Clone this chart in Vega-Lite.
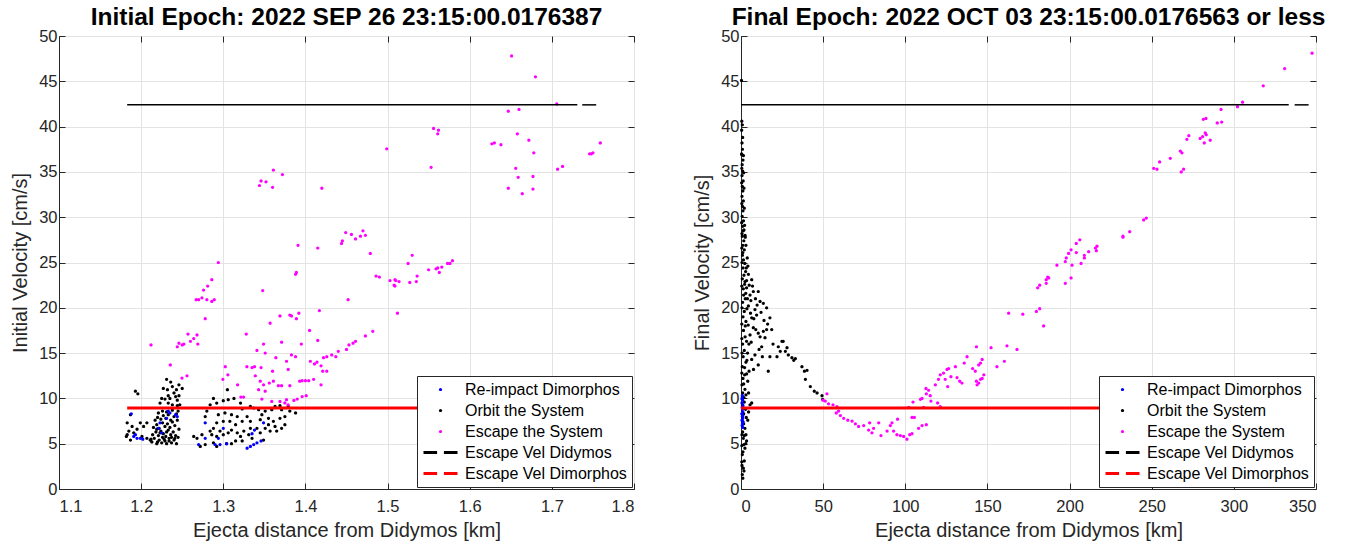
{
  "$schema": "https://vega.github.io/schema/vega-lite/v6.json",
  "background": "white",
  "padding": {"left": 10, "top": 4, "right": 0, "bottom": 0},
  "bounds": "flush",
  "spacing": 107,
  "resolve": {"scale": {"color": "independent", "shape": "independent"}, "legend": {"color": "independent", "shape": "independent"}},
  "datasets": {
    "lp": [
      {"x":1.193,"y":10.8,"s":"O"},{"x":1.196,"y":10.5,"s":"O"},{"x":1.231,"y":12.1,"s":"O"},{"x":1.236,"y":11.8,"s":"O"},{"x":1.238,"y":11.3,"s":"O"},{"x":1.227,"y":11.1,"s":"O"},{"x":1.232,"y":10.96,"s":"O"},{"x":1.246,"y":11.5,"s":"O"},{"x":1.25,"y":11.1,"s":"O"},{"x":1.243,"y":10.96,"s":"O"},{"x":1.24,"y":10.6,"s":"O"},{"x":1.233,"y":10.3,"s":"O"},{"x":1.225,"y":10.0,"s":"O"},{"x":1.229,"y":9.93,"s":"O"},{"x":1.235,"y":10.0,"s":"O"},{"x":1.242,"y":10.2,"s":"O"},{"x":1.246,"y":10.3,"s":"O"},{"x":1.223,"y":9.49,"s":"O"},{"x":1.233,"y":9.49,"s":"O"},{"x":1.238,"y":9.3,"s":"O"},{"x":1.244,"y":9.2,"s":"O"},
      {"x":1.187,"y":8.2,"s":"O"},{"x":1.183,"y":7.3,"s":"O"},{"x":1.189,"y":6.9,"s":"O"},{"x":1.185,"y":6.4,"s":"O"},{"x":1.191,"y":6.2,"s":"O"},{"x":1.182,"y":5.8,"s":"O"},{"x":1.187,"y":5.4,"s":"O"},{"x":1.199,"y":7.3,"s":"O"},{"x":1.207,"y":7.3,"s":"O"},{"x":1.201,"y":5.8,"s":"O"},{"x":1.207,"y":5.6,"s":"O"},{"x":1.211,"y":5.4,"s":"O"},{"x":1.183,"y":6.0,"s":"O"},{"x":1.195,"y":6.6,"s":"O"},{"x":1.203,"y":6.9,"s":"O"},
      {"x":1.213,"y":5.2,"s":"O"},{"x":1.216,"y":5.6,"s":"O"},{"x":1.219,"y":5.0,"s":"O"},{"x":1.222,"y":5.4,"s":"O"},{"x":1.225,"y":5.1,"s":"O"},{"x":1.228,"y":5.5,"s":"O"},{"x":1.231,"y":5.0,"s":"O"},{"x":1.234,"y":5.3,"s":"O"},{"x":1.237,"y":5.1,"s":"O"},{"x":1.24,"y":5.4,"s":"O"},{"x":1.243,"y":5.0,"s":"O"},{"x":1.214,"y":6.0,"s":"O"},{"x":1.218,"y":6.3,"s":"O"},{"x":1.221,"y":5.9,"s":"O"},{"x":1.224,"y":6.4,"s":"O"},{"x":1.227,"y":6.1,"s":"O"},{"x":1.23,"y":5.8,"s":"O"},{"x":1.233,"y":6.5,"s":"O"},{"x":1.236,"y":6.0,"s":"O"},{"x":1.239,"y":6.3,"s":"O"},{"x":1.242,"y":5.9,"s":"O"},{"x":1.215,"y":6.8,"s":"O"},{"x":1.219,"y":7.1,"s":"O"},{"x":1.222,"y":6.7,"s":"O"},{"x":1.226,"y":7.3,"s":"O"},{"x":1.229,"y":6.9,"s":"O"},{"x":1.232,"y":7.2,"s":"O"},{"x":1.235,"y":6.8,"s":"O"},{"x":1.238,"y":7.4,"s":"O"},{"x":1.241,"y":7.0,"s":"O"},{"x":1.217,"y":7.6,"s":"O"},{"x":1.22,"y":7.9,"s":"O"},{"x":1.224,"y":7.7,"s":"O"},{"x":1.227,"y":8.1,"s":"O"},{"x":1.23,"y":7.8,"s":"O"},{"x":1.233,"y":8.2,"s":"O"},{"x":1.236,"y":7.6,"s":"O"},{"x":1.24,"y":8.0,"s":"O"},{"x":1.243,"y":8.3,"s":"O"},{"x":1.221,"y":8.4,"s":"O"},{"x":1.226,"y":8.6,"s":"O"},{"x":1.231,"y":8.5,"s":"O"},{"x":1.238,"y":8.7,"s":"O"},{"x":1.244,"y":7.6,"s":"O"},{"x":1.246,"y":6.6,"s":"O"},{"x":1.245,"y":5.7,"s":"O"},{"x":1.212,"y":5.5,"s":"O"},{"x":1.22,"y":5.2,"s":"O"},{"x":1.229,"y":5.3,"s":"O"},{"x":1.241,"y":5.6,"s":"O"},{"x":1.223,"y":6.2,"s":"O"},{"x":1.234,"y":5.6,"s":"O"},{"x":1.219,"y":6.6,"s":"O"},{"x":1.231,"y":6.3,"s":"O"},{"x":1.237,"y":5.7,"s":"O"},{"x":1.226,"y":5.7,"s":"O"},{"x":1.245,"y":8.6,"s":"O"},{"x":1.247,"y":9.3,"s":"O"},{"x":1.244,"y":9.8,"s":"O"},
      {"x":1.288,"y":10.0,"s":"O"},{"x":1.292,"y":9.49,"s":"O"},{"x":1.284,"y":9.3,"s":"O"},{"x":1.3,"y":9.75,"s":"O"},{"x":1.306,"y":9.86,"s":"O"},{"x":1.313,"y":10.0,"s":"O"},{"x":1.305,"y":10.96,"s":"O"},{"x":1.321,"y":9.49,"s":"O"},{"x":1.323,"y":8.83,"s":"O"},{"x":1.333,"y":9.12,"s":"O"},{"x":1.337,"y":8.94,"s":"O"},{"x":1.343,"y":8.75,"s":"O"},{"x":1.347,"y":8.2,"s":"O"},{"x":1.351,"y":8.6,"s":"O"},{"x":1.359,"y":8.75,"s":"O"},{"x":1.363,"y":9.12,"s":"O"},{"x":1.369,"y":9.2,"s":"O"},{"x":1.379,"y":9.12,"s":"O"},{"x":1.388,"y":8.4,"s":"O"},{"x":1.381,"y":8.6,"s":"O"},{"x":1.371,"y":8.75,"s":"O"},
      {"x":1.28,"y":8.6,"s":"O"},{"x":1.278,"y":8.0,"s":"O"},{"x":1.294,"y":8.2,"s":"O"},{"x":1.302,"y":8.4,"s":"O"},{"x":1.31,"y":8.2,"s":"O"},{"x":1.317,"y":8.0,"s":"O"},{"x":1.329,"y":8.0,"s":"O"},{"x":1.292,"y":7.3,"s":"O"},{"x":1.3,"y":7.47,"s":"O"},{"x":1.308,"y":7.47,"s":"O"},{"x":1.315,"y":7.1,"s":"O"},{"x":1.323,"y":7.47,"s":"O"},{"x":1.333,"y":7.47,"s":"O"},{"x":1.345,"y":7.65,"s":"O"},{"x":1.355,"y":7.8,"s":"O"},{"x":1.361,"y":7.47,"s":"O"},{"x":1.369,"y":7.8,"s":"O"},{"x":1.375,"y":8.0,"s":"O"},
      {"x":1.268,"y":5.6,"s":"O"},{"x":1.264,"y":5.8,"s":"O"},{"x":1.274,"y":6.0,"s":"O"},{"x":1.284,"y":6.4,"s":"O"},{"x":1.288,"y":6.7,"s":"O"},{"x":1.286,"y":6.0,"s":"O"},{"x":1.292,"y":5.8,"s":"O"},{"x":1.296,"y":6.4,"s":"O"},{"x":1.3,"y":6.0,"s":"O"},{"x":1.306,"y":6.2,"s":"O"},{"x":1.31,"y":6.5,"s":"O"},{"x":1.317,"y":6.2,"s":"O"},{"x":1.321,"y":5.8,"s":"O"},{"x":1.325,"y":6.4,"s":"O"},{"x":1.331,"y":6.0,"s":"O"},{"x":1.333,"y":6.7,"s":"O"},{"x":1.341,"y":6.7,"s":"O"},{"x":1.345,"y":6.2,"s":"O"},{"x":1.351,"y":6.7,"s":"O"},{"x":1.355,"y":7.1,"s":"O"},{"x":1.357,"y":6.4,"s":"O"},{"x":1.363,"y":6.9,"s":"O"},{"x":1.365,"y":6.4,"s":"O"},{"x":1.371,"y":6.7,"s":"O"},{"x":1.375,"y":7.1,"s":"O"},{"x":1.272,"y":4.7,"s":"O"},{"x":1.278,"y":4.9,"s":"O"},{"x":1.292,"y":4.7,"s":"O"},{"x":1.288,"y":5.1,"s":"O"},{"x":1.304,"y":5.0,"s":"O"},{"x":1.31,"y":5.0,"s":"O"},{"x":1.315,"y":5.3,"s":"O"},{"x":1.323,"y":5.3,"s":"O"},{"x":1.335,"y":5.6,"s":"O"},{"x":1.349,"y":5.4,"s":"O"},
      {"x":1.2355,"y":13.7,"s":"E"},{"x":1.2497,"y":12.25,"s":"E"},{"x":1.2558,"y":12.5,"s":"E"},{"x":1.3024,"y":13.5,"s":"E"},{"x":1.3056,"y":12.6,"s":"E"},{"x":1.2995,"y":12.1,"s":"E"},{"x":1.3174,"y":11.5,"s":"E"},{"x":1.3214,"y":10.15,"s":"E"},{"x":1.3247,"y":10.15,"s":"E"},{"x":1.3287,"y":13.5,"s":"E"},{"x":1.335,"y":13.4,"s":"E"},{"x":1.338,"y":13.5,"s":"E"},{"x":1.346,"y":13.4,"s":"E"},{"x":1.339,"y":12.5,"s":"E"},{"x":1.345,"y":11.9,"s":"E"},{"x":1.343,"y":10.96,"s":"E"},{"x":1.349,"y":11.5,"s":"E"},{"x":1.347,"y":9.93,"s":"E"},{"x":1.351,"y":10.8,"s":"E"},{"x":1.356,"y":11.7,"s":"E"},{"x":1.36,"y":13.0,"s":"E"},{"x":1.359,"y":9.67,"s":"E"},{"x":1.361,"y":11.9,"s":"E"},{"x":1.367,"y":11.4,"s":"E"},{"x":1.369,"y":9.67,"s":"E"},{"x":1.371,"y":11.4,"s":"E"},{"x":1.375,"y":9.5,"s":"E"},{"x":1.377,"y":9.86,"s":"E"},{"x":1.379,"y":9.3,"s":"E"},{"x":1.381,"y":11.4,"s":"E"},{"x":1.386,"y":9.78,"s":"E"},{"x":1.39,"y":9.93,"s":"E"},{"x":1.393,"y":11.9,"s":"E"},{"x":1.396,"y":11.95,"s":"E"},{"x":1.4,"y":11.95,"s":"E"},{"x":1.404,"y":11.95,"s":"E"},{"x":1.396,"y":10.2,"s":"E"},{"x":1.401,"y":10.3,"s":"E"},{"x":1.41,"y":12.1,"s":"E"},{"x":1.419,"y":11.5,"s":"E"},{"x":1.421,"y":13.0,"s":"E"},{"x":1.426,"y":13.0,"s":"E"},{"x":1.419,"y":13.6,"s":"E"},{"x":1.406,"y":14.1,"s":"E"},{"x":1.411,"y":13.8,"s":"E"},{"x":1.414,"y":14.0,"s":"E"},{"x":1.388,"y":14.6,"s":"E"},{"x":1.364,"y":14.5,"s":"E"},{"x":1.377,"y":14.1,"s":"E"},{"x":1.379,"y":13.2,"s":"E"},
      {"x":1.281,"y":22.4,"s":"E"},{"x":1.276,"y":21.96,"s":"E"},{"x":1.267,"y":20.9,"s":"E"},{"x":1.27,"y":20.9,"s":"E"},{"x":1.274,"y":21.1,"s":"E"},{"x":1.28,"y":20.9,"s":"E"},{"x":1.286,"y":20.7,"s":"E"},{"x":1.289,"y":20.9,"s":"E"},{"x":1.348,"y":21.9,"s":"E"},{"x":1.278,"y":18.8,"s":"E"},{"x":1.212,"y":15.9,"s":"E"},{"x":1.244,"y":15.7,"s":"E"},{"x":1.246,"y":16.1,"s":"E"},{"x":1.25,"y":15.9,"s":"E"},{"x":1.252,"y":16.0,"s":"E"},{"x":1.257,"y":17.1,"s":"E"},{"x":1.26,"y":16.3,"s":"E"},{"x":1.264,"y":16.6,"s":"E"},{"x":1.268,"y":17.0,"s":"E"},{"x":1.269,"y":16.0,"s":"E"},{"x":1.328,"y":17.1,"s":"E"},{"x":1.341,"y":15.3,"s":"E"},{"x":1.349,"y":16.0,"s":"E"},{"x":1.351,"y":15.0,"s":"E"},{"x":1.357,"y":18.3,"s":"E"},{"x":1.369,"y":19.1,"s":"E"},{"x":1.381,"y":19.2,"s":"E"},{"x":1.383,"y":19.1,"s":"E"},{"x":1.392,"y":19.4,"s":"E"},{"x":1.389,"y":18.8,"s":"E"},{"x":1.371,"y":16.2,"s":"E"},{"x":1.383,"y":14.8,"s":"E"},{"x":1.395,"y":16.0,"s":"E"},{"x":1.405,"y":17.5,"s":"E"},{"x":1.415,"y":16.4,"s":"E"},{"x":1.417,"y":19.7,"s":"E"},{"x":1.422,"y":14.5,"s":"E"},{"x":1.426,"y":14.6,"s":"E"},{"x":1.432,"y":14.8,"s":"E"},{"x":1.437,"y":14.6,"s":"E"},{"x":1.44,"y":15.2,"s":"E"},{"x":1.45,"y":15.4,"s":"E"},{"x":1.453,"y":15.9,"s":"E"},{"x":1.458,"y":16.1,"s":"E"},{"x":1.461,"y":16.3,"s":"E"},{"x":1.473,"y":16.9,"s":"E"},{"x":1.482,"y":17.4,"s":"E"},{"x":1.452,"y":20.9,"s":"E"},
      {"x":1.499,"y":37.55,"s":"E"},{"x":1.361,"y":35.2,"s":"E"},{"x":1.372,"y":34.7,"s":"E"},{"x":1.346,"y":34.0,"s":"E"},{"x":1.352,"y":33.9,"s":"E"},{"x":1.344,"y":33.5,"s":"E"},{"x":1.36,"y":33.3,"s":"E"},{"x":1.42,"y":33.2,"s":"E"},{"x":1.391,"y":26.9,"s":"E"},{"x":1.415,"y":26.6,"s":"E"},{"x":1.444,"y":27.1,"s":"E"},{"x":1.445,"y":27.4,"s":"E"},{"x":1.449,"y":28.3,"s":"E"},{"x":1.456,"y":28.1,"s":"E"},{"x":1.461,"y":27.6,"s":"E"},{"x":1.467,"y":27.9,"s":"E"},{"x":1.47,"y":28.5,"s":"E"},{"x":1.473,"y":28.0,"s":"E"},{"x":1.479,"y":26.0,"s":"E"},{"x":1.294,"y":25.0,"s":"E"},{"x":1.286,"y":23.1,"s":"E"},{"x":1.389,"y":23.9,"s":"E"},{"x":1.388,"y":23.7,"s":"E"},{"x":1.486,"y":23.5,"s":"E"},{"x":1.49,"y":23.4,"s":"E"},
      {"x":1.651,"y":47.8,"s":"E"},{"x":1.68,"y":45.5,"s":"E"},{"x":1.706,"y":42.5,"s":"E"},{"x":1.647,"y":41.7,"s":"E"},{"x":1.66,"y":41.9,"s":"E"},{"x":1.556,"y":39.8,"s":"E"},{"x":1.562,"y":39.6,"s":"E"},{"x":1.561,"y":39.2,"s":"E"},{"x":1.627,"y":38.1,"s":"E"},{"x":1.63,"y":38.2,"s":"E"},{"x":1.638,"y":38.0,"s":"E"},{"x":1.658,"y":39.2,"s":"E"},{"x":1.672,"y":38.5,"s":"E"},{"x":1.678,"y":37.1,"s":"E"},{"x":1.746,"y":37.0,"s":"E"},{"x":1.748,"y":37.0,"s":"E"},{"x":1.75,"y":37.1,"s":"E"},{"x":1.759,"y":38.2,"s":"E"},{"x":1.553,"y":35.5,"s":"E"},{"x":1.656,"y":35.4,"s":"E"},{"x":1.659,"y":34.4,"s":"E"},{"x":1.677,"y":34.5,"s":"E"},{"x":1.707,"y":35.3,"s":"E"},{"x":1.713,"y":35.6,"s":"E"},{"x":1.647,"y":33.2,"s":"E"},{"x":1.664,"y":32.6,"s":"E"},{"x":1.677,"y":33.1,"s":"E"},{"x":1.53,"y":25.8,"s":"E"},{"x":1.525,"y":24.9,"s":"E"},{"x":1.55,"y":24.2,"s":"E"},{"x":1.559,"y":24.3,"s":"E"},{"x":1.561,"y":24.4,"s":"E"},{"x":1.563,"y":23.9,"s":"E"},{"x":1.566,"y":24.5,"s":"E"},{"x":1.573,"y":24.9,"s":"E"},{"x":1.576,"y":24.9,"s":"E"},{"x":1.579,"y":25.2,"s":"E"},{"x":1.503,"y":23.0,"s":"E"},{"x":1.509,"y":23.1,"s":"E"},{"x":1.51,"y":23.0,"s":"E"},{"x":1.514,"y":22.9,"s":"E"},{"x":1.508,"y":22.5,"s":"E"},{"x":1.509,"y":22.4,"s":"E"},{"x":1.527,"y":22.8,"s":"E"},{"x":1.535,"y":22.9,"s":"E"},{"x":1.536,"y":23.5,"s":"E"},{"x":1.512,"y":19.4,"s":"E"},
      {"x":1.188,"y":8.3,"s":"R"},{"x":1.191,"y":5.8,"s":"R"},{"x":1.195,"y":5.6,"s":"R"},{"x":1.199,"y":5.6,"s":"R"},{"x":1.202,"y":5.5,"s":"R"},{"x":1.193,"y":6.0,"s":"R"},{"x":1.223,"y":7.3,"s":"R"},{"x":1.221,"y":6.7,"s":"R"},{"x":1.233,"y":8.6,"s":"R"},{"x":1.235,"y":8.4,"s":"R"},{"x":1.242,"y":8.2,"s":"R"},{"x":1.244,"y":8.0,"s":"R"},{"x":1.225,"y":6.2,"s":"R"},{"x":1.231,"y":7.8,"s":"R"},{"x":1.278,"y":7.3,"s":"R"},{"x":1.278,"y":5.6,"s":"R"},{"x":1.27,"y":4.9,"s":"R"},{"x":1.29,"y":4.9,"s":"R"},{"x":1.294,"y":5.6,"s":"R"},{"x":1.296,"y":4.9,"s":"R"},{"x":1.3,"y":6.7,"s":"R"},{"x":1.304,"y":5.0,"s":"R"},{"x":1.329,"y":4.5,"s":"R"},{"x":1.333,"y":4.7,"s":"R"},{"x":1.337,"y":4.9,"s":"R"},{"x":1.341,"y":5.1,"s":"R"},{"x":1.346,"y":5.3,"s":"R"},{"x":1.338,"y":6.5,"s":"R"},{"x":1.335,"y":6.1,"s":"R"},{"x":1.349,"y":7.3,"s":"R"}
    ],
    "rp": [
      {"x":0.3,"y":45.1,"s":"O"},{"x":0.5,"y":40.6,"s":"O"},{"x":0.8,"y":40.2,"s":"O"},{"x":0.4,"y":39.6,"s":"O"},{"x":1.0,"y":38.8,"s":"O"},{"x":0.6,"y":38.2,"s":"O"},{"x":0.9,"y":37.5,"s":"O"},{"x":0.5,"y":36.9,"s":"O"},{"x":1.2,"y":36.3,"s":"O"},{"x":0.7,"y":35.8,"s":"O"},{"x":1.0,"y":35.1,"s":"O"},{"x":0.6,"y":34.6,"s":"O"},{"x":1.3,"y":34.0,"s":"O"},{"x":0.8,"y":33.4,"s":"O"},{"x":1.1,"y":32.9,"s":"O"},{"x":0.6,"y":32.3,"s":"O"},{"x":1.4,"y":31.8,"s":"O"},{"x":0.9,"y":31.2,"s":"O"},{"x":1.2,"y":30.7,"s":"O"},{"x":0.7,"y":30.1,"s":"O"},{"x":1.5,"y":29.6,"s":"O"},{"x":1.0,"y":29.0,"s":"O"},{"x":1.3,"y":28.5,"s":"O"},{"x":0.8,"y":27.9,"s":"O"},{"x":1.7,"y":27.4,"s":"O"},{"x":1.1,"y":26.9,"s":"O"},{"x":2.0,"y":26.4,"s":"O"},{"x":0.9,"y":25.8,"s":"O"},{"x":1.5,"y":25.3,"s":"O"},{"x":2.3,"y":24.9,"s":"O"},{"x":1.2,"y":24.4,"s":"O"},{"x":2.8,"y":24.0,"s":"O"},{"x":1.8,"y":23.6,"s":"O"},{"x":0.8,"y":23.2,"s":"O"},{"x":3.4,"y":23.0,"s":"O"},{"x":2.2,"y":22.6,"s":"O"},{"x":4.5,"y":23.7,"s":"O"},{"x":6.5,"y":23.1,"s":"O"},{"x":1.4,"y":22.1,"s":"O"},{"x":3.4,"y":22.2,"s":"O"},{"x":5.5,"y":21.4,"s":"O"},{"x":7.5,"y":21.8,"s":"O"},{"x":10.5,"y":21.8,"s":"O"},{"x":2.6,"y":21.0,"s":"O"},{"x":1.0,"y":20.6,"s":"O"},{"x":11.6,"y":20.7,"s":"O"},{"x":13.6,"y":20.5,"s":"O"},{"x":15.6,"y":20.0,"s":"O"},{"x":17.6,"y":18.9,"s":"O"},{"x":8.5,"y":19.8,"s":"O"},{"x":9.5,"y":19.2,"s":"O"},{"x":4.5,"y":20.2,"s":"O"},{"x":2.0,"y":19.6,"s":"O"},{"x":1.2,"y":19.0,"s":"O"},{"x":6.5,"y":18.9,"s":"O"},{"x":3.0,"y":18.5,"s":"O"},{"x":7.5,"y":17.8,"s":"O"},{"x":10.5,"y":17.2,"s":"O"},{"x":11.6,"y":16.8,"s":"O"},{"x":13.6,"y":17.4,"s":"O"},{"x":15.6,"y":17.6,"s":"O"},{"x":18.7,"y":17.6,"s":"O"},{"x":14.6,"y":16.7,"s":"O"},{"x":12.6,"y":15.7,"s":"O"},{"x":5.5,"y":17.0,"s":"O"},{"x":1.5,"y":17.5,"s":"O"},{"x":2.5,"y":16.8,"s":"O"},{"x":3.4,"y":16.3,"s":"O"},{"x":1.0,"y":16.0,"s":"O"},{"x":8.5,"y":14.8,"s":"O"},{"x":6.5,"y":14.3,"s":"O"},{"x":10.5,"y":13.7,"s":"O"},{"x":16.6,"y":13.0,"s":"O"},{"x":17.6,"y":14.6,"s":"O"},{"x":2.0,"y":15.3,"s":"O"},{"x":1.3,"y":14.6,"s":"O"},{"x":3.0,"y":14.0,"s":"O"},{"x":0.8,"y":13.5,"s":"O"},{"x":4.9,"y":13.0,"s":"O"},{"x":2.2,"y":12.6,"s":"O"},{"x":1.2,"y":12.2,"s":"O"},{"x":4.1,"y":11.9,"s":"O"},{"x":2.4,"y":11.0,"s":"O"},{"x":1.0,"y":10.6,"s":"O"},{"x":1.8,"y":10.1,"s":"O"},{"x":5.5,"y":9.3,"s":"O"},{"x":6.5,"y":9.5,"s":"O"},{"x":2.8,"y":8.8,"s":"O"},{"x":1.6,"y":8.3,"s":"O"},{"x":3.2,"y":7.9,"s":"O"},{"x":4.1,"y":7.6,"s":"O"},{"x":2.4,"y":6.7,"s":"O"},{"x":1.0,"y":6.3,"s":"O"},{"x":3.0,"y":6.0,"s":"O"},{"x":1.4,"y":5.6,"s":"O"},{"x":3.4,"y":5.3,"s":"O"},{"x":2.4,"y":4.5,"s":"O"},{"x":1.2,"y":4.1,"s":"O"},{"x":0.8,"y":3.8,"s":"O"},{"x":2.0,"y":3.1,"s":"O"},{"x":1.4,"y":2.3,"s":"O"},{"x":0.8,"y":1.6,"s":"O"},{"x":1.1,"y":1.2,"s":"O"},
      {"x":3.8,"y":25.5,"s":"O"},{"x":2.6,"y":27.8,"s":"O"},{"x":4.2,"y":24.6,"s":"O"},{"x":5.0,"y":22.5,"s":"O"},{"x":6.0,"y":20.8,"s":"O"},{"x":7.0,"y":22.4,"s":"O"},{"x":8.8,"y":21.0,"s":"O"},{"x":9.8,"y":20.3,"s":"O"},{"x":12.2,"y":19.5,"s":"O"},{"x":14.0,"y":18.6,"s":"O"},{"x":16.2,"y":18.2,"s":"O"},{"x":3.6,"y":19.9,"s":"O"},{"x":5.8,"y":19.4,"s":"O"},{"x":7.8,"y":18.8,"s":"O"},{"x":9.0,"y":17.6,"s":"O"},{"x":4.4,"y":18.1,"s":"O"},{"x":6.2,"y":16.2,"s":"O"},{"x":11.0,"y":15.4,"s":"O"},{"x":13.0,"y":14.6,"s":"O"},{"x":7.6,"y":13.2,"s":"O"},{"x":4.0,"y":15.0,"s":"O"},{"x":3.0,"y":10.4,"s":"O"},{"x":2.0,"y":9.6,"s":"O"},{"x":4.6,"y":8.5,"s":"O"},{"x":1.6,"y":7.2,"s":"O"},{"x":2.9,"y":5.0,"s":"O"},{"x":0.9,"y":9.3,"s":"O"},{"x":2.2,"y":13.4,"s":"O"},{"x":1.6,"y":21.4,"s":"O"},{"x":2.4,"y":22.9,"s":"O"},{"x":1.8,"y":28.6,"s":"O"},{"x":1.1,"y":26.1,"s":"O"},
      {"x":0.4,"y":37.0,"s":"O"},{"x":1.5,"y":36.8,"s":"O"},{"x":0.5,"y":35.4,"s":"O"},{"x":1.6,"y":34.9,"s":"O"},{"x":0.4,"y":33.8,"s":"O"},{"x":1.8,"y":33.2,"s":"O"},{"x":0.5,"y":31.5,"s":"O"},{"x":2.0,"y":31.0,"s":"O"},{"x":0.4,"y":29.4,"s":"O"},{"x":2.2,"y":29.1,"s":"O"},{"x":0.6,"y":28.2,"s":"O"},{"x":2.5,"y":28.0,"s":"O"},{"x":0.5,"y":26.6,"s":"O"},{"x":3.0,"y":26.9,"s":"O"},{"x":0.6,"y":25.0,"s":"O"},{"x":3.2,"y":24.4,"s":"O"},{"x":0.5,"y":22.4,"s":"O"},{"x":2.9,"y":21.6,"s":"O"},{"x":0.6,"y":20.0,"s":"O"},{"x":3.9,"y":21.0,"s":"O"},{"x":0.5,"y":18.2,"s":"O"},{"x":2.6,"y":18.0,"s":"O"},{"x":0.5,"y":16.6,"s":"O"},{"x":4.8,"y":16.0,"s":"O"},{"x":0.6,"y":15.0,"s":"O"},{"x":3.6,"y":14.2,"s":"O"},{"x":0.5,"y":12.8,"s":"O"},{"x":3.4,"y":12.7,"s":"O"},{"x":0.6,"y":11.5,"s":"O"},{"x":1.6,"y":11.6,"s":"O"},{"x":4.6,"y":10.6,"s":"O"},{"x":0.6,"y":6.0,"s":"O"},{"x":2.0,"y":5.9,"s":"O"},{"x":0.5,"y":4.8,"s":"O"},{"x":1.7,"y":4.9,"s":"O"},{"x":0.5,"y":3.0,"s":"O"},{"x":1.8,"y":2.0,"s":"O"},{"x":0.6,"y":2.6,"s":"O"},
      {"x":19.5,"y":16.0,"s":"O"},{"x":21.9,"y":14.6,"s":"O"},{"x":22.7,"y":15.7,"s":"O"},{"x":23.9,"y":15.2,"s":"O"},{"x":24.9,"y":16.3,"s":"O"},{"x":25.7,"y":16.3,"s":"O"},{"x":27.0,"y":15.2,"s":"O"},{"x":28.0,"y":15.6,"s":"O"},{"x":28.8,"y":14.8,"s":"O"},{"x":31.0,"y":14.5,"s":"O"},{"x":32.1,"y":14.2,"s":"O"},{"x":33.1,"y":14.4,"s":"O"},{"x":37.1,"y":13.5,"s":"O"},{"x":38.6,"y":13.0,"s":"O"},{"x":40.2,"y":13.1,"s":"O"},{"x":39.2,"y":12.1,"s":"O"},{"x":42.2,"y":11.3,"s":"O"},{"x":44.6,"y":10.8,"s":"O"},{"x":46.3,"y":10.6,"s":"O"},{"x":49.3,"y":10.3,"s":"O"},{"x":49.7,"y":9.9,"s":"O"},
      {"x":52.3,"y":10.5,"s":"E"},{"x":49.9,"y":9.8,"s":"E"},{"x":51.3,"y":9.7,"s":"E"},{"x":53.3,"y":9.4,"s":"E"},{"x":56.0,"y":9.3,"s":"E"},{"x":58.4,"y":9.1,"s":"E"},{"x":59.4,"y":8.6,"s":"E"},{"x":58.0,"y":8.4,"s":"E"},{"x":60.5,"y":8.1,"s":"E"},{"x":62.5,"y":7.8,"s":"E"},{"x":65.0,"y":7.6,"s":"E"},{"x":67.6,"y":7.5,"s":"E"},{"x":69.6,"y":7.2,"s":"E"},{"x":71.6,"y":6.9,"s":"E"},{"x":74.7,"y":7.0,"s":"E"},{"x":78.3,"y":7.3,"s":"E"},{"x":77.7,"y":6.5,"s":"E"},{"x":79.7,"y":6.2,"s":"E"},{"x":80.7,"y":6.7,"s":"E"},{"x":83.8,"y":7.3,"s":"E"},{"x":85.2,"y":5.9,"s":"E"},{"x":88.9,"y":6.4,"s":"E"},{"x":90.9,"y":7.0,"s":"E"},{"x":91.9,"y":7.3,"s":"E"},{"x":92.9,"y":6.4,"s":"E"},{"x":94.9,"y":6.0,"s":"E"},{"x":95.3,"y":7.7,"s":"E"},{"x":97.0,"y":5.9,"s":"E"},{"x":99.0,"y":5.8,"s":"E"},{"x":101.0,"y":5.5,"s":"E"},{"x":102.7,"y":6.0,"s":"E"},{"x":104.1,"y":6.1,"s":"E"},{"x":104.1,"y":7.9,"s":"E"},{"x":105.5,"y":7.9,"s":"E"},{"x":108.1,"y":6.7,"s":"E"},{"x":110.2,"y":7.0,"s":"E"},{"x":112.8,"y":7.1,"s":"E"},{"x":104.7,"y":9.6,"s":"E"},{"x":102.1,"y":9.0,"s":"E"},{"x":109.2,"y":9.9,"s":"E"},{"x":111.2,"y":9.0,"s":"E"},{"x":110.2,"y":10.0,"s":"E"},{"x":112.8,"y":10.5,"s":"E"},{"x":114.2,"y":10.9,"s":"E"},{"x":115.2,"y":10.3,"s":"E"},{"x":112.6,"y":11.1,"s":"E"},{"x":115.6,"y":9.7,"s":"E"},{"x":118.3,"y":11.5,"s":"E"},{"x":119.7,"y":9.5,"s":"E"},{"x":121.3,"y":9.1,"s":"E"},{"x":120.2,"y":12.1,"s":"E"},{"x":121.3,"y":12.6,"s":"E"},{"x":123.3,"y":12.8,"s":"E"},{"x":125.4,"y":13.2,"s":"E"},{"x":126.4,"y":13.3,"s":"E"},{"x":124.3,"y":12.1,"s":"E"},{"x":125.8,"y":11.3,"s":"E"},{"x":127.8,"y":12.4,"s":"E"},{"x":130.5,"y":13.5,"s":"E"},{"x":131.5,"y":12.3,"s":"E"},{"x":133.1,"y":11.9,"s":"E"},{"x":134.5,"y":11.7,"s":"E"},{"x":135.9,"y":13.9,"s":"E"},{"x":137.6,"y":14.6,"s":"E"},{"x":141.0,"y":13.3,"s":"E"},{"x":142.6,"y":13.0,"s":"E"},{"x":143.3,"y":11.9,"s":"E"},{"x":143.7,"y":11.5,"s":"E"},{"x":144.7,"y":11.7,"s":"E"},{"x":145.8,"y":12.1,"s":"E"},{"x":146.8,"y":12.2,"s":"E"},{"x":147.8,"y":12.6,"s":"E"},{"x":143.3,"y":15.7,"s":"E"},{"x":144.7,"y":13.7,"s":"E"},{"x":145.8,"y":13.9,"s":"E"},{"x":146.8,"y":14.3,"s":"E"},{"x":152.2,"y":15.6,"s":"E"},
      {"x":155.8,"y":13.5,"s":"E"},{"x":160.3,"y":14.1,"s":"E"},{"x":161.9,"y":15.8,"s":"E"},{"x":168.0,"y":15.4,"s":"E"},{"x":162.9,"y":19.4,"s":"E"},{"x":171.5,"y":19.3,"s":"E"},{"x":179.8,"y":19.6,"s":"E"},{"x":181.8,"y":19.9,"s":"E"},{"x":184.2,"y":18.0,"s":"E"},{"x":180.6,"y":22.2,"s":"E"},{"x":181.8,"y":22.5,"s":"E"},{"x":185.8,"y":23.1,"s":"E"},{"x":186.7,"y":23.4,"s":"E"},{"x":187.3,"y":23.3,"s":"E"},{"x":185.8,"y":22.7,"s":"E"},{"x":192.3,"y":24.7,"s":"E"},{"x":197.4,"y":25.1,"s":"E"},{"x":198.0,"y":25.5,"s":"E"},{"x":199.4,"y":26.0,"s":"E"},{"x":200.9,"y":26.4,"s":"E"},{"x":204.1,"y":27.1,"s":"E"},{"x":206.2,"y":27.5,"s":"E"},{"x":204.1,"y":26.1,"s":"E"},{"x":197.4,"y":22.7,"s":"E"},{"x":200.9,"y":23.3,"s":"E"},{"x":201.5,"y":24.7,"s":"E"},{"x":207.0,"y":24.9,"s":"E"},{"x":209.0,"y":25.5,"s":"E"},{"x":209.0,"y":25.8,"s":"E"},{"x":211.6,"y":26.2,"s":"E"},{"x":215.7,"y":26.6,"s":"E"},{"x":216.3,"y":26.3,"s":"E"},{"x":216.7,"y":26.8,"s":"E"},{"x":232.5,"y":27.9,"s":"E"},{"x":232.5,"y":27.8,"s":"E"},{"x":236.6,"y":28.4,"s":"E"},{"x":245.1,"y":29.7,"s":"E"},{"x":246.7,"y":29.9,"s":"E"},{"x":251.2,"y":35.4,"s":"E"},{"x":253.2,"y":35.3,"s":"E"},{"x":254.8,"y":36.1,"s":"E"},{"x":261.3,"y":36.5,"s":"E"},{"x":267.4,"y":37.3,"s":"E"},{"x":268.4,"y":37.1,"s":"E"},{"x":268.0,"y":35.0,"s":"E"},{"x":269.4,"y":35.3,"s":"E"},{"x":271.4,"y":38.6,"s":"E"},{"x":272.6,"y":39.0,"s":"E"},{"x":279.5,"y":38.7,"s":"E"},{"x":281.0,"y":38.9,"s":"E"},{"x":282.6,"y":39.3,"s":"E"},{"x":283.2,"y":39.1,"s":"E"},{"x":282.0,"y":38.2,"s":"E"},{"x":285.6,"y":38.5,"s":"E"},{"x":281.4,"y":40.8,"s":"E"},{"x":283.0,"y":40.9,"s":"E"},{"x":289.9,"y":40.4,"s":"E"},{"x":292.6,"y":40.5,"s":"E"},{"x":292.2,"y":41.9,"s":"E"},{"x":302.2,"y":42.2,"s":"E"},{"x":305.3,"y":42.7,"s":"E"},{"x":317.9,"y":44.5,"s":"E"},{"x":330.9,"y":46.4,"s":"E"},{"x":347.6,"y":48.1,"s":"E"},
      {"x":0.8,"y":10.3,"s":"R"},{"x":1.0,"y":9.8,"s":"R"},{"x":0.6,"y":9.5,"s":"R"},{"x":1.2,"y":9.2,"s":"R"},{"x":0.7,"y":9.0,"s":"R"},{"x":0.9,"y":8.8,"s":"R"},{"x":1.1,"y":8.5,"s":"R"},{"x":0.5,"y":8.3,"s":"R"},{"x":0.8,"y":8.0,"s":"R"},{"x":1.0,"y":7.8,"s":"R"},{"x":0.6,"y":7.6,"s":"R"},{"x":1.3,"y":7.4,"s":"R"},{"x":0.9,"y":7.2,"s":"R"},{"x":0.7,"y":7.0,"s":"R"},{"x":1.0,"y":6.8,"s":"R"},{"x":0.8,"y":9.9,"s":"R"},{"x":1.1,"y":8.1,"s":"R"},{"x":0.6,"y":10.0,"s":"R"},{"x":0.9,"y":7.5,"s":"R"}
    ],
    "ll": [
      {"x":1.183,"y":42.4,"s":"D","g":1},{"x":1.731,"y":42.4,"s":"D","g":1},{"x":1.737,"y":42.4,"s":"D","g":2},{"x":1.754,"y":42.4,"s":"D","g":2},
      {"x":1.183,"y":8.95,"s":"M","g":3},{"x":1.758,"y":8.95,"s":"M","g":3}
    ],
    "rl": [
      {"x":0,"y":42.4,"s":"D","g":1},{"x":333.4,"y":42.4,"s":"D","g":1},{"x":337.0,"y":42.4,"s":"D","g":2},{"x":345.5,"y":42.4,"s":"D","g":2},
      {"x":0,"y":8.95,"s":"M","g":3},{"x":348,"y":8.95,"s":"M","g":3}
    ]
  },
  "hconcat": [
    {
      "width": 575, "height": 453,
      "title": {"text": "Initial Epoch: 2022 SEP 26 23:15:00.0176387"},
      "layer": [
        {
          "data": {"name": "lp"},
          "mark": {"type": "point", "filled": true, "opacity": 1, "size": 289, "strokeWidth": 0},
          "encoding": {
            "x": {"field": "x", "type": "quantitative", "scale": {"domain": [1.1, 1.8], "nice": false, "zero": false},
                  "axis": {"values": [1.1,1.2,1.3,1.4,1.5,1.6,1.7,1.8], "format": ".1f", "title": "Ejecta distance from Didymos [km]", "labelPadding": 15, "titlePadding": 6}},
            "y": {"field": "y", "type": "quantitative", "scale": {"domain": [0, 50], "nice": false},
                  "axis": {"values": [0,5,10,15,20,25,30,35,40,45,50], "title": "Initial Velocity [cm/s]"}},
            "color": {"field": "s", "type": "nominal",
                      "scale": {"domain": ["R","O","E","D","M"], "range": ["#0000ff","#000000","#ff00ff","#000000","#ff0000"]},
                      "legend": {"title": null, "orient": "none", "legendX": 358, "legendY": 340, "fillColor": "white", "strokeColor": "#262626", "padding": 5, "symbolOffset": 10, "labelOffset": 16, "rowPadding": 4, "labelFontSize": 16, "labelLimit": 400, "labelColor": "#000000", "symbolSize": 289, "symbolStrokeWidth": 0, "zindex": 2,
                                 "labelExpr": "datum.label=='R'?'Re-impact Dimorphos':datum.label=='O'?'Orbit the System':datum.label=='E'?'Escape the System':datum.label=='D'?'Escape Vel Didymos':'Escape Vel Dimorphos'"}},
            "shape": {"field": "s", "type": "nominal",
                      "scale": {"domain": ["R","O","E","D","M"], "range": ["M0.19,0A0.19,0.19,0,1,1,-0.19,0A0.19,0.19,0,1,1,0.19,0Z","M0.19,0A0.19,0.19,0,1,1,-0.19,0A0.19,0.19,0,1,1,0.19,0Z","M0.19,0A0.19,0.19,0,1,1,-0.19,0A0.19,0.19,0,1,1,0.19,0Z","M-2,-0.17H-0.4V0.17H-2Z M0.4,-0.17H2V0.17H0.4Z","M-2,-0.17H-0.4V0.17H-2Z M0.4,-0.17H2V0.17H0.4Z"]},
                      "legend": {"title": null, "orient": "none", "legendX": 358, "legendY": 340, "fillColor": "white", "strokeColor": "#262626", "padding": 5, "symbolOffset": 10, "labelOffset": 16, "rowPadding": 4, "labelFontSize": 16, "labelLimit": 400, "labelColor": "#000000", "symbolSize": 289, "symbolStrokeWidth": 0, "zindex": 2,
                                 "labelExpr": "datum.label=='R'?'Re-impact Dimorphos':datum.label=='O'?'Orbit the System':datum.label=='E'?'Escape the System':datum.label=='D'?'Escape Vel Didymos':'Escape Vel Dimorphos'"}}
          }
        },
        {
          "data": {"name": "ll"},
          "transform": [{"filter": "datum.s == 'D'"}],
          "mark": {"type": "line", "color": "#000000", "strokeWidth": 1.5},
          "encoding": {
            "x": {"field": "x", "type": "quantitative", "axis": {"orient": "top", "values": [1.1,1.2,1.3,1.4,1.5,1.6,1.7,1.8], "labels": false, "grid": false, "domain": false, "title": null, "maxExtent": 0, "minExtent": 0}},
            "y": {"field": "y", "type": "quantitative", "axis": {"orient": "right", "values": [0,5,10,15,20,25,30,35,40,45,50], "labels": false, "grid": false, "domain": false, "title": null, "maxExtent": 0, "minExtent": 0}},
            "detail": {"field": "g", "type": "nominal"}
          }
        },
        {
          "data": {"name": "ll"},
          "transform": [{"filter": "datum.s == 'M'"}],
          "mark": {"type": "line", "color": "#ff0000", "strokeWidth": 3},
          "encoding": {
            "x": {"field": "x", "type": "quantitative", "axis": null},
            "y": {"field": "y", "type": "quantitative", "axis": null},
            "detail": {"field": "g", "type": "nominal"}
          }
        }
      ],
      "resolve": {"axis": {"x": "independent", "y": "independent"}}
    },
    {
      "width": 575, "height": 453,
      "title": {"text": "Final Epoch: 2022 OCT 03 23:15:00.0176563 or less"},
      "layer": [
        {
          "data": {"name": "rp"},
          "mark": {"type": "point", "filled": true, "opacity": 1, "size": 289, "strokeWidth": 0},
          "encoding": {
            "x": {"field": "x", "type": "quantitative", "scale": {"domain": [0, 350], "nice": false},
                  "axis": {"values": [0,50,100,150,200,250,300,350], "title": "Ejecta distance from Didymos [km]", "labelPadding": 15, "titlePadding": 6}},
            "y": {"field": "y", "type": "quantitative", "scale": {"domain": [0, 50], "nice": false},
                  "axis": {"values": [0,5,10,15,20,25,30,35,40,45,50], "title": "Final Velocity [cm/s]"}},
            "color": {"field": "s", "type": "nominal",
                      "scale": {"domain": ["R","O","E","D","M"], "range": ["#0000ff","#000000","#ff00ff","#000000","#ff0000"]},
                      "legend": {"title": null, "orient": "none", "legendX": 358, "legendY": 340, "fillColor": "white", "strokeColor": "#262626", "padding": 5, "symbolOffset": 10, "labelOffset": 16, "rowPadding": 4, "labelFontSize": 16, "labelLimit": 400, "labelColor": "#000000", "symbolSize": 289, "symbolStrokeWidth": 0, "zindex": 2,
                                 "labelExpr": "datum.label=='R'?'Re-impact Dimorphos':datum.label=='O'?'Orbit the System':datum.label=='E'?'Escape the System':datum.label=='D'?'Escape Vel Didymos':'Escape Vel Dimorphos'"}},
            "shape": {"field": "s", "type": "nominal",
                      "scale": {"domain": ["R","O","E","D","M"], "range": ["M0.19,0A0.19,0.19,0,1,1,-0.19,0A0.19,0.19,0,1,1,0.19,0Z","M0.19,0A0.19,0.19,0,1,1,-0.19,0A0.19,0.19,0,1,1,0.19,0Z","M0.19,0A0.19,0.19,0,1,1,-0.19,0A0.19,0.19,0,1,1,0.19,0Z","M-2,-0.17H-0.4V0.17H-2Z M0.4,-0.17H2V0.17H0.4Z","M-2,-0.17H-0.4V0.17H-2Z M0.4,-0.17H2V0.17H0.4Z"]},
                      "legend": {"title": null, "orient": "none", "legendX": 358, "legendY": 340, "fillColor": "white", "strokeColor": "#262626", "padding": 5, "symbolOffset": 10, "labelOffset": 16, "rowPadding": 4, "labelFontSize": 16, "labelLimit": 400, "labelColor": "#000000", "symbolSize": 289, "symbolStrokeWidth": 0, "zindex": 2,
                                 "labelExpr": "datum.label=='R'?'Re-impact Dimorphos':datum.label=='O'?'Orbit the System':datum.label=='E'?'Escape the System':datum.label=='D'?'Escape Vel Didymos':'Escape Vel Dimorphos'"}}
          }
        },
        {
          "data": {"name": "rl"},
          "transform": [{"filter": "datum.s == 'D'"}],
          "mark": {"type": "line", "color": "#000000", "strokeWidth": 1.5},
          "encoding": {
            "x": {"field": "x", "type": "quantitative", "axis": {"orient": "top", "values": [0,50,100,150,200,250,300,350], "labels": false, "grid": false, "domain": false, "title": null, "maxExtent": 0, "minExtent": 0}},
            "y": {"field": "y", "type": "quantitative", "axis": {"orient": "right", "values": [0,5,10,15,20,25,30,35,40,45,50], "labels": false, "grid": false, "domain": false, "title": null, "maxExtent": 0, "minExtent": 0}},
            "detail": {"field": "g", "type": "nominal"}
          }
        },
        {
          "data": {"name": "rl"},
          "transform": [{"filter": "datum.s == 'M'"}],
          "mark": {"type": "line", "color": "#ff0000", "strokeWidth": 3},
          "encoding": {
            "x": {"field": "x", "type": "quantitative", "axis": null},
            "y": {"field": "y", "type": "quantitative", "axis": null},
            "detail": {"field": "g", "type": "nominal"}
          }
        }
      ],
      "resolve": {"axis": {"x": "independent", "y": "independent"}}
    }
  ],
  "config": {
    "font": "Liberation Sans",
    "view": {"stroke": "#262626", "strokeWidth": 1},
    "axis": {"labelFontSize": 16.5, "labelColor": "#262626", "titleFontSize": 20, "titleFontWeight": "normal", "titleColor": "#262626", "gridColor": "#e3e3e3", "domainColor": "#262626", "tickColor": "#262626", "tickSize": -6, "labelPadding": 8, "titlePadding": 8},
    "legend": {"labelFont": "Liberation Sans"},
    "title": {"fontSize": 24.5, "fontWeight": "bold", "color": "#000000", "offset": -2, "font": "Liberation Sans"}
  }
}
